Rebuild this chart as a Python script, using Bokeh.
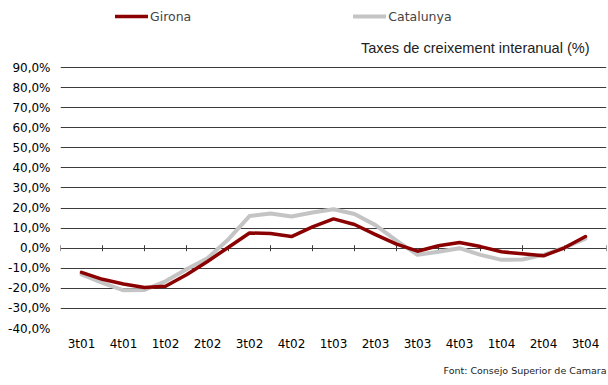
import math
from bokeh.plotting import figure
from bokeh.models import (FixedTicker, Legend, LegendItem, Label, Title, ColumnDataSource)
from bokeh.embed import file_html
from bokeh.resources import INLINE

# ---- data ----
quarters = ["3t01", "4t01", "1t02", "2t02", "3t02", "4t02", "1t03",
            "2t03", "3t03", "4t03", "1t04", "2t04", "3t04"]
# values sampled every half quarter, from 3t01 to 3t04 (%)
girona = [-12.0, -15.5, -17.8, -19.6, -19.0, -13.2, -6.6, 0.5, 7.6, 7.3,
          5.8, 10.6, 14.6, 11.8, 6.8, 2.0, -1.5, 1.2, 2.8, 0.8, -1.8, -2.8,
          -3.8, 0.2, 5.8]
catalunya = [-13.0, -17.3, -21.0, -20.8, -16.5, -10.5, -5.0, 4.5, 16.0,
             17.3, 15.8, 17.8, 19.4, 17.0, 11.5, 3.8, -3.3, -1.8, 0.0, -3.3,
             -5.8, -5.6, -3.3, 0.3, 4.8]
y_ticks = [-40, -30, -20, -10, 0, 10, 20, 30, 40, 50, 60, 70, 80, 90]
title_text = "Taxes de creixement interanual (%)"
source_text = "Font: Consejo Superior de Camara"

n = len(quarters)
xs = [0.5 + 0.5 * i for i in range(len(girona))]
src = ColumnDataSource(dict(x=xs, g=girona, c=catalunya))

# headroom above the 90% gridline holds the legend and the subtitle
y_top = 119.4

p = figure(width=608, height=385, output_backend="svg", toolbar_location=None,
           x_range=(0, n), y_range=(y_ticks[0], y_top),
           min_border_left=60, min_border_right=2, min_border_top=8,
           min_border_bottom=57)
p.outline_line_color = None
p.background_fill_color = "white"
p.border_fill_color = "white"

font = "DejaVu Sans"

# y axis
p.yaxis.ticker = FixedTicker(ticks=y_ticks)
p.yaxis.major_label_overrides = {v: f"{v:.1f}%".replace(".", ",") for v in y_ticks}
p.yaxis.axis_line_color = None
p.yaxis.major_tick_line_color = None
p.yaxis.major_tick_out = 0
p.yaxis.major_tick_in = 0
p.yaxis.minor_tick_line_color = None
p.yaxis.major_label_text_font = font
p.yaxis.major_label_text_font_size = "12px"
p.yaxis.major_label_text_color = "black"
p.yaxis.major_label_standoff = 10

# x axis
centers = [k + 0.5 for k in range(n)]
p.xaxis.ticker = FixedTicker(ticks=centers)
p.xaxis.major_label_overrides = {c: q for c, q in zip(centers, quarters)}
p.xaxis.axis_line_color = None
p.xaxis.major_tick_line_color = None
p.xaxis.major_tick_out = 0
p.xaxis.major_tick_in = 0
p.xaxis.minor_tick_line_color = None
p.xaxis.major_label_text_font = font
p.xaxis.major_label_text_font_size = "12px"
p.xaxis.major_label_text_color = "black"
p.xaxis.major_label_standoff = 8

# grid
p.xgrid.grid_line_color = None
p.ygrid.ticker = FixedTicker(ticks=y_ticks)
p.ygrid.grid_line_color = "#3c3c3c"
p.ygrid.grid_line_width = 1

# tick marks on the zero line at category boundaries
p.scatter(x=list(range(n + 1)), y=[0] * (n + 1), marker="dash", angle=math.pi / 2,
          size=6, line_color="#3c3c3c", line_width=1)

rc = p.line("x", "c", source=src, line_color="#c4c4c4", line_width=4,
            line_join="round", line_cap="round")
rg = p.line("x", "g", source=src, line_color="#8b0000", line_width=3.5,
            line_join="round", line_cap="round")

legend = Legend(items=[LegendItem(label="Girona", renderers=[rg]),
                       LegendItem(label="Catalunya", renderers=[rc])],
                orientation="horizontal", location=(55, 304),
                padding=0, margin=0, spacing=162, glyph_width=33,
                glyph_height=16, label_height=16, label_standoff=2,
                label_text_font=font, label_text_font_size="12.5px",
                background_fill_alpha=0, border_line_alpha=0)
p.add_layout(legend, "center")

p.add_layout(Label(x=12.6, y=99.6, text=title_text, text_align="right",
                   text_baseline="middle", text_font="Liberation Sans",
                   text_font_size="14.6px", text_color="#222222"))

p.add_layout(Title(text=source_text, align="right", text_font=font,
                   text_font_size="9.5px", text_font_style="normal",
                   text_color="#222222", standoff=19), "below")

open("out.html", "w").write(file_html(p, INLINE))
